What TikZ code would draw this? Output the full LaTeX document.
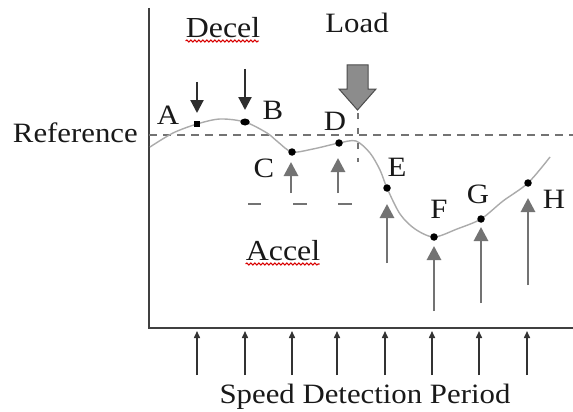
\documentclass[tikz,border=0pt]{standalone}
\usepackage{fontspec}
\setmainfont{Liberation Serif}[FakeStretch=1.1]
\usetikzlibrary{decorations.pathmorphing,arrows.meta,shapes.geometric}
\begin{document}
\begin{tikzpicture}[x=1pt,y=-1pt,
  lbl/.style={font=\fontsize{28}{30}\selectfont, inner sep=0pt, anchor=base, text=black!90},
  biglbl/.style={font=\fontsize{29}{31}\selectfont, inner sep=0pt, anchor=base, text=black!90},
  axis/.style={line width=1.7pt, draw=black!75},
  refline/.style={line width=2.3pt, draw=black!55, dash pattern=on 8pt off 6pt},
  curve/.style={line width=1.4pt, draw=black!33},
  dot/.style={circle, fill=black, inner sep=0pt, minimum size=7.5pt},
  sqdot/.style={rectangle, fill=black, inner sep=0pt, minimum size=6.5pt},
  eldot/.style={ellipse, fill=black, inner sep=0pt, minimum width=9.5pt, minimum height=7pt},
  uparrow/.style={line width=2.8pt, draw=black!55, -{Triangle[length=14pt,width=14pt]}},
  downarrow/.style={line width=2.2pt, draw=black!82, -{Triangle[length=13pt,width=13pt]}},
  tickarrow/.style={line width=1.5pt, draw=black!80, -{Triangle[length=7pt,width=6pt]}},
  wavy/.style={draw=red!85!black, line width=1.1pt, decorate, decoration={snake, amplitude=1pt, segment length=4pt}},
  shortdash/.style={line width=1.7pt, draw=black!55},
  loaddash/.style={line width=2pt, draw=black!55, dash pattern=on 6pt off 9pt}
]
\useasboundingbox (0,0) rectangle (573,412);
\fill[white] (0,0) rectangle (573,412);

% axes
\coordinate (ytop) at (149,8);
\coordinate (origin) at (149,328);
\coordinate (xend) at (573,328);
\draw[axis] (ytop) -- (origin) -- (xend);

% reference line
\coordinate (r0) at (149,135);
\coordinate (r1) at (573,135);
\draw[refline] (r0) -- (r1);
\node[lbl, anchor=base east] (ref) at (138,142) {Reference};

% curve
\coordinate (pA) at (197,124);
\coordinate (pB) at (245,122);
\coordinate (pC) at (292,152);
\coordinate (pD) at (339,143);
\coordinate (pE) at (387,188);
\coordinate (pF) at (434,237);
\coordinate (pG) at (481,219);
\coordinate (pH) at (528,183);
\draw[curve] plot[smooth, tension=0.5] coordinates {
  (150,147) (173,133) (pA) (220,119) (pB) (267,133) (278,142) (pC) (313,149)
  (pD) (356,141) (370,153) (380,170) (pE) (400,214) (415,229) (pF) (457,229)
  (pG) (503,201) (pH) (550,157)};

\node[sqdot] (A) at (pA) {};
\node[eldot] (B) at (pB) {};
\node[dot] (C) at (pC) {};
\node[dot] (D) at (pD) {};
\node[dot] (E) at (pE) {};
\node[dot] (F) at (pF) {};
\node[dot] (G) at (pG) {};
\node[dot] (H) at (pH) {};

% point labels
\node[lbl] (lA) at (168,124) {A};
\node[lbl] (lB) at (273,119) {B};
\node[lbl] (lC) at (264,177) {C};
\node[lbl] (lD) at (335,130) {D};
\node[lbl] (lE) at (397,176) {E};
\node[lbl] (lF) at (439,218) {F};
\node[lbl] (lG) at (478,203) {G};
\node[lbl] (lH) at (554,208) {H};

% decel arrows
\coordinate (dA0) at (197,82);
\coordinate (dA1) at (197,113);
\coordinate (dB0) at (245,69);
\coordinate (dB1) at (245,110);
\draw[downarrow] (dA0) -- (dA1);
\draw[downarrow] (dB0) -- (dB1);

% accel arrows
\coordinate (uC0) at (291,193); \coordinate (uC1) at (291,162);
\coordinate (uD0) at (338,193); \coordinate (uD1) at (338,158);
\coordinate (uE0) at (387,263); \coordinate (uE1) at (387,204);
\coordinate (uF0) at (434,311); \coordinate (uF1) at (434,246);
\coordinate (uG0) at (481,303); \coordinate (uG1) at (481,227);
\coordinate (uH0) at (528,285); \coordinate (uH1) at (528,198);
\draw[uparrow] (uC0) -- (uC1);
\draw[uparrow] (uD0) -- (uD1);
\draw[uparrow] (uE0) -- (uE1);
\draw[uparrow] (uF0) -- (uF1);
\draw[uparrow] (uG0) -- (uG1);
\draw[uparrow] (uH0) -- (uH1);

% short dashes
\coordinate (s1a) at (248,204); \coordinate (s1b) at (261,204);
\coordinate (s2a) at (293,204); \coordinate (s2b) at (307,204);
\coordinate (s3a) at (338,204); \coordinate (s3b) at (352,204);
\draw[shortdash] (s1a) -- (s1b);
\draw[shortdash] (s2a) -- (s2b);
\draw[shortdash] (s3a) -- (s3b);

% load arrow
\draw[fill=black!45, draw=black!70, line width=1pt]
  (347,65) -- (368,65) -- (368,89) -- (376,89) -- (357.5,110) -- (339,89) -- (347,89) -- cycle;
\coordinate (ld0) at (357.5,113);
\coordinate (ld1) at (357.5,162);
\draw[loaddash] (ld0) -- (ld1);

% titles
\node[biglbl] (decel) at (223,38) {Decel};
\draw[wavy] (decel.base west) ++(0,3) -- ++(73,0);
\node[lbl] (load) at (357,33) {Load};
\node[biglbl] (accel) at (283,260) {Accel};
\draw[wavy] (accel.base west) ++(0,4) -- ++(74,0);

% speed detection ticks
\foreach \x [count=\i] in {197,245,292,337,385,432,479,527} {
  \coordinate (tb\i) at (\x,375);
  \coordinate (tt\i) at (\x,331);
  \draw[tickarrow] (tb\i) -- (tt\i);
}
\node[lbl] (speed) at (365,403) {Speed Detection Period};
\end{tikzpicture}
\end{document}
